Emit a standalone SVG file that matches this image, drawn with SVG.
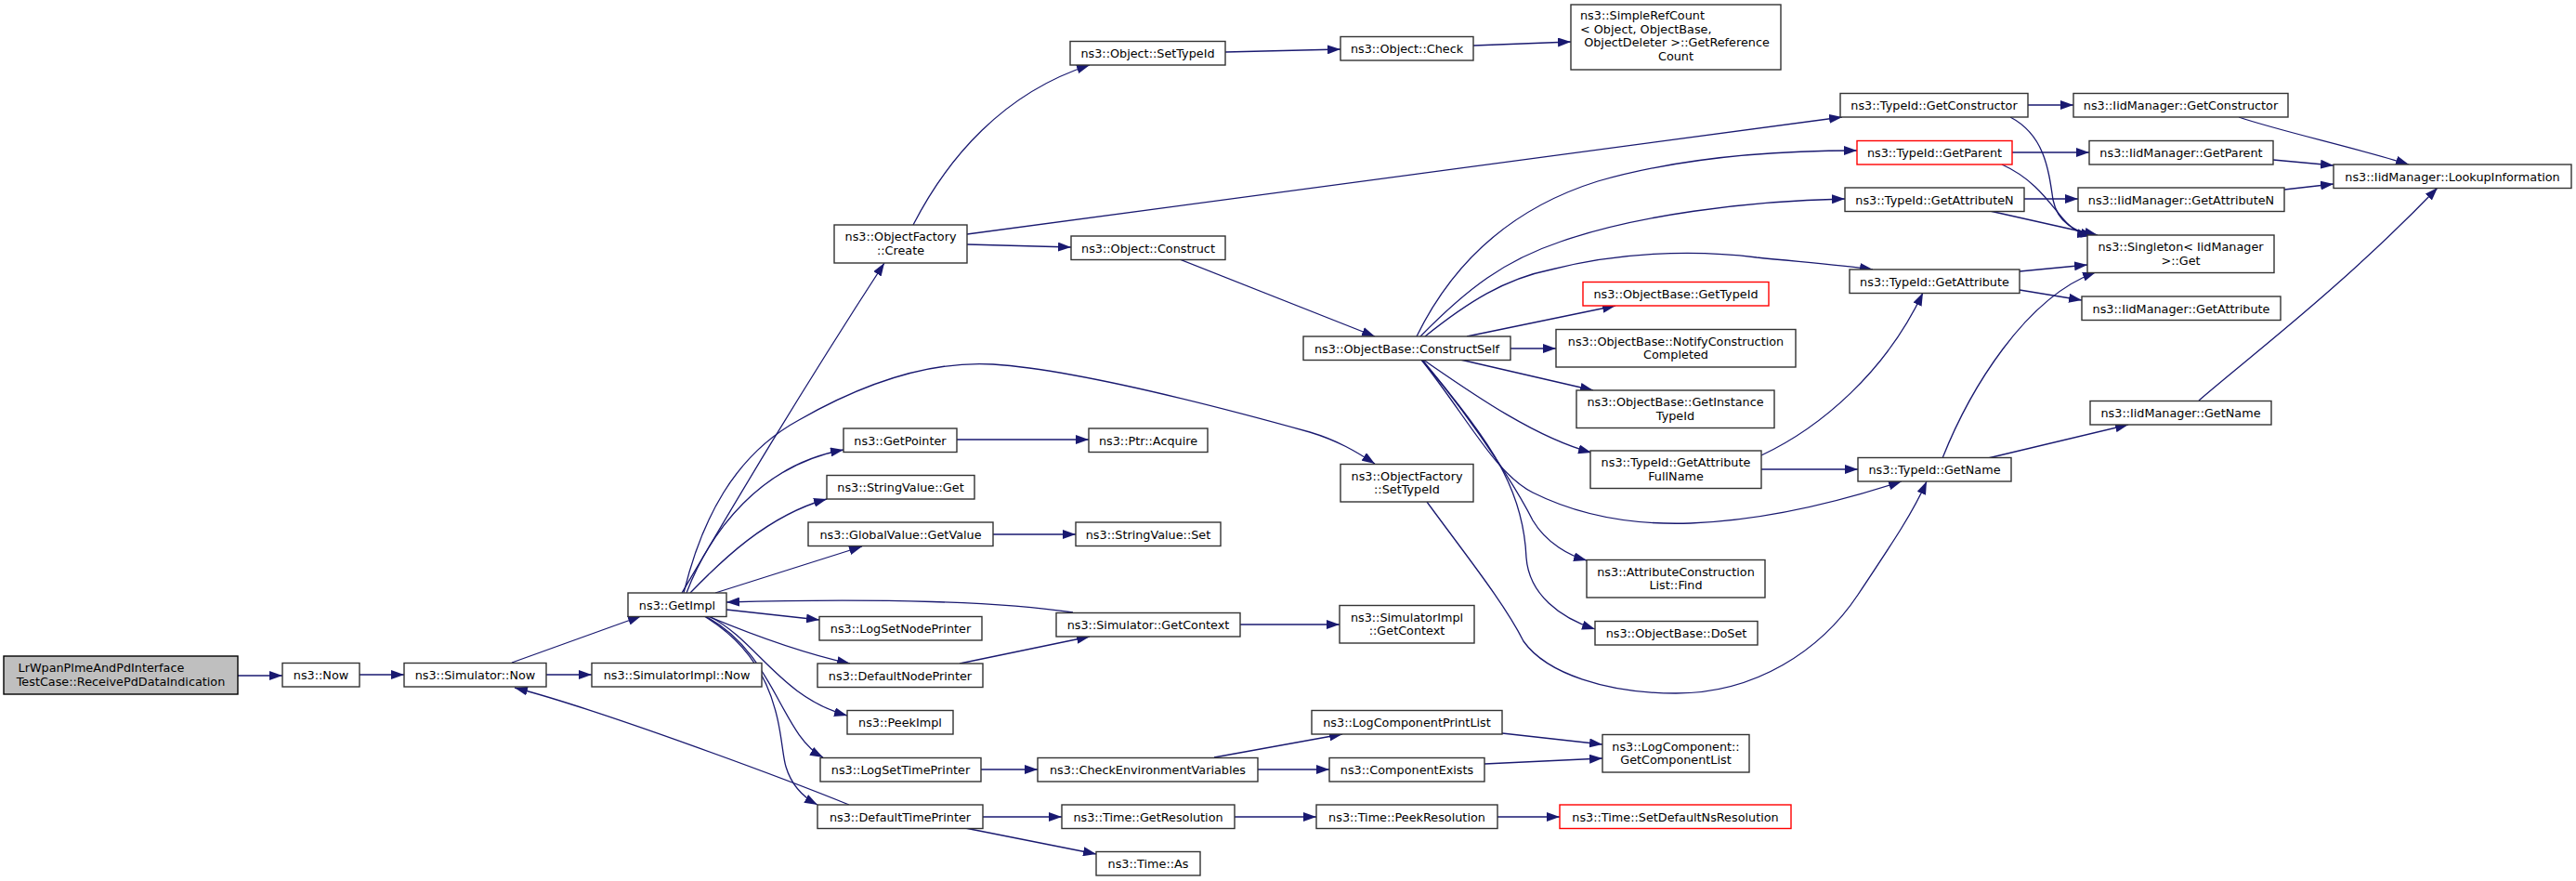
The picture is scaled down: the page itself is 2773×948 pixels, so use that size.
<svg xmlns="http://www.w3.org/2000/svg" width="2773" height="948" viewBox="0 0 2773 948">
<defs>
<marker id="ah" markerUnits="userSpaceOnUse" markerWidth="14" markerHeight="10" refX="14" refY="5" orient="auto">
<path d="M0,0 L14,5 L0,10 z" fill="#191970"/>
</marker>
<style>
.nd rect{fill:#ffffff;stroke:#333333;stroke-width:1.4}
.nd.red rect{stroke:#ff0000}
.nd.root rect{fill:#bfbfbf;stroke:#000000}
.nd text{font-family:"DejaVu Sans","Liberation Sans",sans-serif;font-size:12.8px;fill:#000000;text-anchor:middle}
.nd text.l{text-anchor:start}
#edges path{fill:none;stroke:#191970;stroke-width:1.3;marker-end:url(#ah)}
</style>
</defs>
<rect x="0" y="0" width="2773" height="948" fill="#ffffff"/>
<g id="edges">
<path d="M256,727 L304,727"/>
<path d="M387,726 L435,726"/>
<path d="M588,726 L637,726"/>
<path d="M551,713 L690,663"/>
<path d="M914,866 C850,840 650,765 554,740"/>
<path d="M734,638 C780,560 850,440 952,283"/>
<path d="M736,638 C755,560 790,490 860,452 C930,412 1000,388 1069,392 C1160,398 1320,440 1410,465 C1440,474 1460,486 1480,499"/>
<path d="M739,638 C765,570 820,500 908,484"/>
<path d="M743,638 C775,605 825,555 890,537"/>
<path d="M770,638 L928,588"/>
<path d="M1155,659 C1080,648 950,643 782,648"/>
<path d="M782,656 L882,667"/>
<path d="M762,663 C810,683 860,702 915,714"/>
<path d="M765,664 C815,690 840,750 912,770"/>
<path d="M761,664 C835,705 840,790 886,815"/>
<path d="M758,663 C845,715 838,800 846,825 C852,845 865,858 880,866"/>
<path d="M1033,714 L1173,685"/>
<path d="M1335,672 L1442,672"/>
<path d="M1030,473 L1172,473"/>
<path d="M1069,575 L1158,575"/>
<path d="M1056,828 L1117,828"/>
<path d="M1307,815 L1445,790"/>
<path d="M1354,828 L1431,828"/>
<path d="M1617,789 L1725,801"/>
<path d="M1598,822 L1725,816"/>
<path d="M1058,879 L1143,879"/>
<path d="M1039,891 L1180,919"/>
<path d="M1329,879 L1417,879"/>
<path d="M1612,879 L1679,879"/>
<path d="M983,242 C1020,170 1080,100 1173,70"/>
<path d="M1041,252 L1983,126"/>
<path d="M1041,263 L1153,266"/>
<path d="M1319,56 L1443,53"/>
<path d="M1586,49 L1691,45"/>
<path d="M1270,279 L1480,362"/>
<path d="M1525,362 C1570,270 1640,220 1720,195 C1800,172 1900,162 1999,162"/>
<path d="M1529,362 C1580,310 1620,280 1680,260 C1760,232 1880,216 1986,214"/>
<path d="M1534,362 C1580,325 1620,300 1670,290 C1740,272 1820,268 1891,277 C1940,282 1980,285 2016,290"/>
<path d="M1579,362 L1739,329"/>
<path d="M1626,375 L1675,375"/>
<path d="M1572,387 L1715,420"/>
<path d="M1532,387 C1580,420 1650,470 1713,487"/>
<path d="M1530,387 C1580,450 1610,510 1650,530 C1700,555 1760,565 1820,563 C1900,560 1980,540 2047,518"/>
<path d="M1531,387 C1600,470 1640,540 1650,560 C1665,585 1690,598 1708,603"/>
<path d="M1530,387 C1610,480 1640,530 1643,600 C1646,640 1680,665 1717,677"/>
<path d="M1536,540 C1580,600 1620,650 1640,690 C1665,725 1730,746 1804,746 C1890,746 1960,700 2000,640 C2040,580 2060,550 2074,518"/>
<path d="M1896,505 L2000,505"/>
<path d="M1896,490 C1960,460 2030,400 2070,315"/>
<path d="M2183,113 L2232,113"/>
<path d="M2164,126 C2200,145 2205,180 2210,215 C2215,240 2235,250 2254,253"/>
<path d="M2166,164 L2249,164"/>
<path d="M2155,177 C2195,195 2210,225 2225,240 C2233,248 2242,252 2250,253"/>
<path d="M2179,214 L2237,214"/>
<path d="M2142,227 L2258,253"/>
<path d="M2174,292 L2247,285"/>
<path d="M2174,312 L2241,323"/>
<path d="M2091,493 C2120,420 2180,320 2256,293"/>
<path d="M2140,493 L2291,457"/>
<path d="M2410,126 C2450,140 2540,160 2593,177"/>
<path d="M2447,172 L2512,178"/>
<path d="M2459,204 L2512,198"/>
<path d="M2367,431 C2420,385 2520,310 2624,202"/>
</g>
<g id="n0" class="nd root"><rect x="4" y="706" width="252" height="41"/><text class="l" x="19.5" y="723">LrWpanPlmeAndPdInterface</text><text x="130" y="737.5">TestCase::ReceivePdDataIndication</text></g>
<g id="n1" class="nd"><rect x="304" y="713.5" width="83" height="25.5"/><text x="345.5" y="731">ns3::Now</text></g>
<g id="n2" class="nd"><rect x="435" y="713.5" width="153" height="25.5"/><text x="511.5" y="731">ns3::Simulator::Now</text></g>
<g id="n3" class="nd"><rect x="637" y="713.5" width="183" height="25.5"/><text x="728.5" y="731">ns3::SimulatorImpl::Now</text></g>
<g id="n4" class="nd"><rect x="676" y="638" width="106" height="25.5"/><text x="729" y="655.5">ns3::GetImpl</text></g>
<g id="n5" class="nd"><rect x="898" y="242" width="143" height="41"/><text x="969.5" y="259">ns3::ObjectFactory</text><text x="969.5" y="273.5">::Create</text></g>
<g id="n6" class="nd"><rect x="1152" y="44.5" width="167" height="25.5"/><text x="1235.5" y="62">ns3::Object::SetTypeId</text></g>
<g id="n7" class="nd"><rect x="1153" y="254" width="166" height="25.5"/><text x="1236" y="271.5">ns3::Object::Construct</text></g>
<g id="n8" class="nd"><rect x="908" y="461" width="122" height="25.5"/><text x="969" y="478.5">ns3::GetPointer</text></g>
<g id="n9" class="nd"><rect x="1172" y="461" width="128" height="25.5"/><text x="1236" y="478.5">ns3::Ptr::Acquire</text></g>
<g id="n10" class="nd"><rect x="890" y="511.5" width="159" height="25.5"/><text x="969.5" y="529">ns3::StringValue::Get</text></g>
<g id="n11" class="nd"><rect x="870" y="562" width="199" height="25.5"/><text x="969.5" y="579.5">ns3::GlobalValue::GetValue</text></g>
<g id="n12" class="nd"><rect x="1158" y="562" width="156" height="25.5"/><text x="1236" y="579.5">ns3::StringValue::Set</text></g>
<g id="n13" class="nd"><rect x="882" y="663.5" width="175" height="25.5"/><text x="969.5" y="681">ns3::LogSetNodePrinter</text></g>
<g id="n14" class="nd"><rect x="1137" y="659.5" width="198" height="25.5"/><text x="1236" y="677">ns3::Simulator::GetContext</text></g>
<g id="n15" class="nd"><rect x="880" y="714" width="178" height="25.5"/><text x="969" y="731.5">ns3::DefaultNodePrinter</text></g>
<g id="n16" class="nd"><rect x="912" y="764.5" width="114" height="25.5"/><text x="969" y="782">ns3::PeekImpl</text></g>
<g id="n17" class="nd"><rect x="883" y="815.5" width="173" height="25.5"/><text x="969.5" y="833">ns3::LogSetTimePrinter</text></g>
<g id="n18" class="nd"><rect x="1117" y="815.5" width="237" height="25.5"/><text x="1235.5" y="833">ns3::CheckEnvironmentVariables</text></g>
<g id="n19" class="nd"><rect x="880" y="866" width="178" height="25.5"/><text x="969" y="883.5">ns3::DefaultTimePrinter</text></g>
<g id="n20" class="nd"><rect x="1143" y="866" width="186" height="25.5"/><text x="1236" y="883.5">ns3::Time::GetResolution</text></g>
<g id="n21" class="nd"><rect x="1180" y="916.5" width="112" height="25.5"/><text x="1236" y="934">ns3::Time::As</text></g>
<g id="n22" class="nd"><rect x="1443" y="39.5" width="143" height="25.5"/><text x="1514.5" y="57">ns3::Object::Check</text></g>
<g id="n23" class="nd"><rect x="1691" y="5" width="226" height="70"/><text class="l" x="1701" y="21">ns3::SimpleRefCount</text><text class="l" x="1701" y="35.7">&lt; Object, ObjectBase,</text><text x="1805" y="50.4">ObjectDeleter &gt;::GetReference</text><text x="1804" y="65">Count</text></g>
<g id="n24" class="nd"><rect x="1981" y="100.5" width="202" height="25.5"/><text x="2082" y="118">ns3::TypeId::GetConstructor</text></g>
<g id="n25" class="nd red"><rect x="1999" y="151.5" width="167" height="25.5"/><text x="2082.5" y="169">ns3::TypeId::GetParent</text></g>
<g id="n26" class="nd"><rect x="1986" y="202" width="193" height="25.5"/><text x="2082.5" y="219.5">ns3::TypeId::GetAttributeN</text></g>
<g id="n27" class="nd"><rect x="1991" y="290" width="183" height="25.5"/><text x="2082.5" y="307.5">ns3::TypeId::GetAttribute</text></g>
<g id="n28" class="nd red"><rect x="1704" y="303.5" width="200" height="25.5"/><text x="1804" y="321">ns3::ObjectBase::GetTypeId</text></g>
<g id="n29" class="nd"><rect x="1403" y="362" width="223" height="25.5"/><text x="1514.5" y="379.5">ns3::ObjectBase::ConstructSelf</text></g>
<g id="n30" class="nd"><rect x="1675" y="354.5" width="258" height="40.5"/><text x="1804" y="371.5">ns3::ObjectBase::NotifyConstruction</text><text x="1804" y="385.5">Completed</text></g>
<g id="n31" class="nd"><rect x="1697" y="420" width="213" height="40.5"/><text x="1803.5" y="437">ns3::ObjectBase::GetInstance</text><text x="1803.5" y="451.5">TypeId</text></g>
<g id="n32" class="nd"><rect x="1443" y="499.5" width="143" height="40.5"/><text x="1514.5" y="516.5">ns3::ObjectFactory</text><text x="1514.5" y="531">::SetTypeId</text></g>
<g id="n33" class="nd"><rect x="1712" y="485" width="184" height="40.5"/><text x="1804" y="502">ns3::TypeId::GetAttribute</text><text x="1804" y="516.5">FullName</text></g>
<g id="n34" class="nd"><rect x="2000" y="492.5" width="165" height="25.5"/><text x="2082.5" y="510">ns3::TypeId::GetName</text></g>
<g id="n35" class="nd"><rect x="1708" y="602.5" width="192" height="40.5"/><text x="1804" y="619.5">ns3::AttributeConstruction</text><text x="1804" y="633.5">List::Find</text></g>
<g id="n36" class="nd"><rect x="1442" y="651.5" width="145" height="40.5"/><text x="1514.5" y="668.5">ns3::SimulatorImpl</text><text x="1514.5" y="683">::GetContext</text></g>
<g id="n37" class="nd"><rect x="1717" y="668.5" width="175" height="25.5"/><text x="1804.5" y="686">ns3::ObjectBase::DoSet</text></g>
<g id="n38" class="nd"><rect x="1412" y="764.5" width="205" height="25.5"/><text x="1514.5" y="782">ns3::LogComponentPrintList</text></g>
<g id="n39" class="nd"><rect x="1725" y="790.5" width="158" height="40.5"/><text x="1804" y="807.5">ns3::LogComponent::</text><text x="1804" y="821.5">GetComponentList</text></g>
<g id="n40" class="nd"><rect x="1431" y="815.5" width="167" height="25.5"/><text x="1514.5" y="833">ns3::ComponentExists</text></g>
<g id="n41" class="nd"><rect x="1417" y="866" width="195" height="25.5"/><text x="1514.5" y="883.5">ns3::Time::PeekResolution</text></g>
<g id="n42" class="nd red"><rect x="1679" y="866" width="249" height="25.5"/><text x="1803.5" y="883.5">ns3::Time::SetDefaultNsResolution</text></g>
<g id="n43" class="nd"><rect x="2232" y="100.5" width="231" height="25.5"/><text x="2347.5" y="118">ns3::IidManager::GetConstructor</text></g>
<g id="n44" class="nd"><rect x="2249" y="151.5" width="198" height="25.5"/><text x="2348" y="169">ns3::IidManager::GetParent</text></g>
<g id="n45" class="nd"><rect x="2512" y="177" width="256" height="25.5"/><text x="2640" y="194.5">ns3::IidManager::LookupInformation</text></g>
<g id="n46" class="nd"><rect x="2237" y="202" width="222" height="25.5"/><text x="2348" y="219.5">ns3::IidManager::GetAttributeN</text></g>
<g id="n47" class="nd"><rect x="2247" y="253" width="201" height="40.5"/><text x="2347.5" y="270">ns3::Singleton&lt; IidManager</text><text x="2347.5" y="284.5">&gt;::Get</text></g>
<g id="n48" class="nd"><rect x="2241" y="319" width="214" height="25.5"/><text x="2348" y="336.5">ns3::IidManager::GetAttribute</text></g>
<g id="n49" class="nd"><rect x="2250" y="431.5" width="195" height="25.5"/><text x="2347.5" y="449">ns3::IidManager::GetName</text></g>
</svg>
